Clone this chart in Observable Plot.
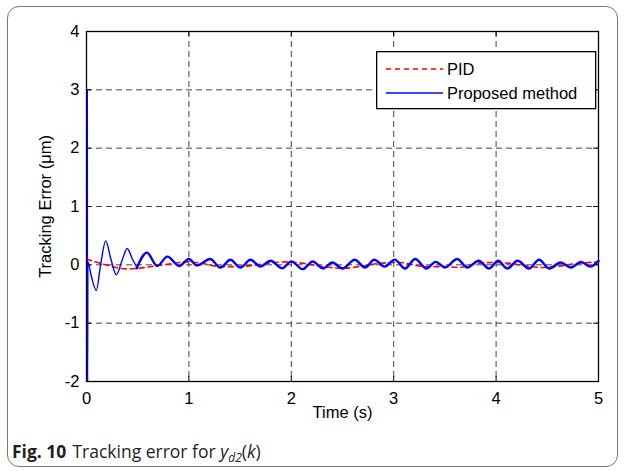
<!DOCTYPE html>
<html><head><meta charset="utf-8">
<script src="https://cdn.jsdelivr.net/npm/d3@7"></script>
<script src="https://cdn.jsdelivr.net/npm/@observablehq/plot@0.6"></script>
<style>
body{margin:0;background:#fff;}
#wrap{position:relative;width:624px;height:471px;overflow:hidden;font-family:"Liberation Sans",Arial,sans-serif;}
#box{position:absolute;left:7px;top:6px;width:609px;height:459px;border:1px solid #777;border-radius:12px;}
#chart{position:absolute;left:0;top:0;}
#legend{position:absolute;left:376px;top:51px;}
#caption{position:absolute;left:12px;top:439px;font-family:"Open Sans","Noto Sans",sans-serif;font-size:17.5px;color:#231f20;white-space:nowrap;}
#caption b{font-weight:700;margin-right:6px;}
#caption sub{font-size:12px;vertical-align:-4px;line-height:0;}
</style></head>
<body>
<div id="wrap">
  <div id="box"></div>
  <div id="chart"></div>
  <div id="legend"></div>
  <div id="caption"><b>Fig. 10</b>Tracking error for <i>y</i><sub><i>d2</i></sub>(<i>k</i>)</div>
</div>
<script>
// ---- data ----
const xTicks = [0, 1, 2, 3, 4, 5];
const yTicks = [-2, -1, 0, 1, 2, 3, 4];
const seriesNames = ["PID", "Proposed method"];

// Proposed method (blue): time (s) and tracking error (um)
const blueT = [0, 0.003, 0.006, 0.04, 0.088, 0.13, 0.18, 0.23, 0.284, 0.34, 0.39, 0.44, 0.49, 0.59, 0.69, 0.79, 0.905, 1.0,
  1.078, 1.209, 1.307, 1.405, 1.503, 1.601, 1.699, 1.797, 1.912, 2.0,
  2.11, 2.21, 2.31, 2.4, 2.5, 2.62, 2.72, 2.81, 2.91, 3.01,
  3.11, 3.21, 3.32, 3.41, 3.5, 3.62, 3.72, 3.83, 3.93, 4.02,
  4.11, 4.21, 4.32, 4.42, 4.52, 4.63, 4.73, 4.83, 4.92, 5.0];
const blueV = [3, -2, 0.05, -0.2, -0.44, 0.0, 0.41, 0.1, -0.17, 0.08, 0.28, 0.1, -0.06, 0.21, -0.02, 0.14, -0.02, 0.1,
  -0.01, 0.1, -0.05, 0.086, -0.046, 0.086, -0.03, 0.069, -0.06, 0.06,
  -0.074, 0.057, -0.063, 0.04, -0.063, 0.086, -0.046, 0.086, -0.03, 0.09,
  -0.063, 0.1, -0.063, 0.05, -0.046, 0.1, -0.046, 0.069, -0.063, 0.069,
  -0.063, 0.069, -0.063, 0.086, -0.063, 0.04, -0.046, 0.05, -0.03, 0.069];

// PID (red dashed)
const redT = [0, 0.05, 0.15, 0.25, 0.38, 0.5, 0.67, 0.83, 0.98, 1.11, 1.31, 1.45, 1.63, 1.78, 1.96, 2.1, 2.31, 2.5, 2.7, 2.89,
  3.05, 3.31, 3.5, 3.63, 3.83, 3.97, 4.11, 4.3, 4.44, 4.57, 4.83, 5.0];
const redV = [0.1, 0.07, 0.02, -0.03, -0.07, -0.06, -0.02, 0.02, 0.05, 0.03, -0.03, -0.03, -0.01, 0.03, 0.05, 0.03, -0.03, -0.06, -0.02, 0.03,
  0.04, -0.03, -0.03, -0.045, 0.03, 0.04, 0.03, -0.02, -0.046, -0.03, 0.03, 0.05];

const blue = blueT.map((t, i) => ({t, v: blueV[i]}));
const red = redT.map((t, i) => ({t, v: redV[i]}));

const font = '"Liberation Sans", Arial, sans-serif';
const fs = 16.5;
const chart = Plot.plot({
  width: 624, height: 430,
  marginLeft: 86, marginRight: 26, marginTop: 31, marginBottom: 49,
  style: {fontFamily: font, fontSize: fs + "px", color: "#000", background: "transparent", overflow: "visible"},
  x: {domain: [0, 5]},
  y: {domain: [-2, 4]},
  marks: [
    Plot.ruleX(xTicks, {x: d => d, stroke: "#444", strokeDasharray: "6,4"}),
    Plot.ruleY(yTicks, {y: d => d, stroke: "#444", strokeDasharray: "6,4"}),
    Plot.ruleX(xTicks, {x: d => d, stroke: "#000", insetTop: 345}),
    Plot.ruleX(xTicks, {x: d => d, stroke: "#000", insetBottom: 345}),
    Plot.ruleY(yTicks, {y: d => d, stroke: "#000", insetRight: 507}),
    Plot.ruleY(yTicks, {y: d => d, stroke: "#000", insetLeft: 507}),
    Plot.frame({stroke: "#000", strokeWidth: 1.3}),
    Plot.line(red, {x: "t", y: "v", stroke: "#ff0000", strokeWidth: 1.6, strokeDasharray: "5,4", curve: "monotone-x"}),
    Plot.line(blue, {filter: d => d.t <= 0.49, x: "t", y: "v", stroke: "#0000ff", strokeWidth: 1.4, curve: "monotone-x", dx: 0.8}),
    Plot.line(blue, {filter: d => d.t >= 0.49, x: "t", y: "v", stroke: "#0000ff", strokeWidth: 2.4, curve: "monotone-x"}),
    Plot.axisX(xTicks, {tickSize: 0, tickPadding: 11, tickFormat: d => String(d), label: null}),
    Plot.axisY(yTicks, {tickSize: 0, tickPadding: 7, tickFormat: d => String(d), label: null}),
    Plot.text(["Time (s)"], {text: d => d, frameAnchor: "bottom", dy: 36, fontSize: fs}),
    Plot.text(["Tracking Error (\u03bcm)"], {text: d => d, frameAnchor: "left", textAnchor: "middle", rotate: -90, dx: -41, fontSize: fs})
  ]
});
document.getElementById("chart").appendChild(chart);

// legend
const lg = d3.select("#legend").append("svg").attr("width", 222).attr("height", 59)
  .style("font-family", font).style("font-size", fs + "px");
lg.append("rect").attr("x", 0.65).attr("y", 0.65).attr("width", 219).attr("height", 57)
  .attr("fill", "#fff").attr("stroke", "#000").attr("stroke-width", 1.3);
const styles = [{stroke: "#ff0000", dash: "5,4", w: 1.4}, {stroke: "#0000ff", dash: null, w: 1.4}];
seriesNames.forEach((name, i) => {
  const y = 18 + i * 24;
  lg.append("line").attr("x1", 10).attr("x2", 67).attr("y1", y).attr("y2", y)
    .attr("stroke", styles[i].stroke).attr("stroke-width", styles[i].w)
    .attr("stroke-dasharray", styles[i].dash);
  lg.append("text").attr("x", 71).attr("y", y).attr("dy", "0.35em").text(name);
});
</script>
</body></html>
